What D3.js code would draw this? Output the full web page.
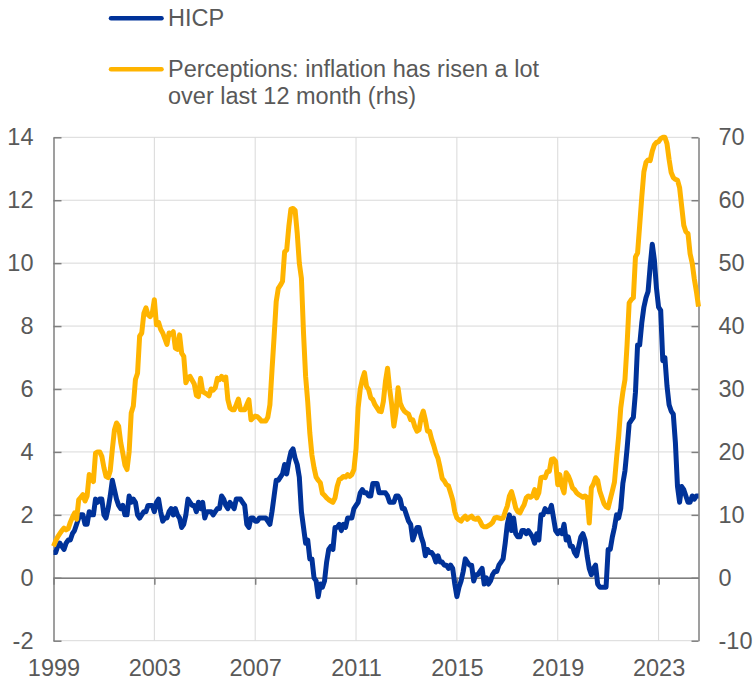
<!DOCTYPE html>
<html>
<head>
<meta charset="utf-8">
<script src="https://cdn.jsdelivr.net/npm/d3@7"></script>
<style>
  body { margin: 0; background: #fff; }
  svg text { font-family: Arial, "Liberation Sans", sans-serif; fill: #595959; }
</style>
</head>
<body>
<svg id="chart" width="755" height="681"></svg>
<script>
// monthly data, Jan 1999 .. Aug 2024
const START_YEAR = 1999;
const yearTicks = [1999, 2003, 2007, 2011, 2015, 2019, 2023];
const leftTicks = [-2, 0, 2, 4, 6, 8, 10, 12, 14];
const rightTicks = [-10, 0, 10, 20, 30, 40, 50, 60, 70];

const seriesNames = ['HICP', 'Perceptions: inflation has risen a lot', 'over last 12 month (rhs)'];

// HICP, annual % change (lhs)
const hicp = [
  0.8, 0.8, 1.0, 1.1, 1.0, 0.9, 1.1, 1.2, 1.2, 1.4, 1.5, 1.7,
  1.9, 2.0, 2.0, 1.7, 1.7, 2.1, 2.0, 2.0, 2.5, 2.4, 2.5, 2.5,
  2.0, 1.9, 2.2, 2.6, 3.1, 2.8, 2.5, 2.3, 2.2, 2.3, 2.0, 2.0,
  2.6, 2.4, 2.5, 2.4, 2.0, 1.9, 2.0, 2.1, 2.1, 2.3, 2.3, 2.3,
  2.1, 2.4, 2.5, 2.1, 1.8, 1.9, 1.9, 2.1, 2.2, 2.0, 2.2, 2.0,
  1.9, 1.6, 1.7, 2.0, 2.5, 2.4, 2.3, 2.3, 2.1, 2.4, 2.2, 2.4,
  1.9, 2.1, 2.1, 2.1, 2.0, 2.1, 2.2, 2.2, 2.6, 2.5, 2.3, 2.2,
  2.4, 2.3, 2.2, 2.5, 2.5, 2.5, 2.4, 2.3, 1.7, 1.6, 1.9, 1.9,
  1.8, 1.8, 1.9, 1.9, 1.9, 1.9, 1.8, 1.7, 2.1, 2.6, 3.1, 3.1,
  3.2, 3.3, 3.6, 3.3, 3.7, 4.0, 4.1, 3.8, 3.6, 3.2, 2.1, 1.6,
  1.1, 1.2, 0.6, 0.6, 0.0, -0.1, -0.6, -0.2, -0.3, -0.1, 0.5, 0.9,
  1.0, 0.9, 1.6, 1.6, 1.7, 1.5, 1.7, 1.6, 1.9, 1.9, 1.9, 2.2,
  2.3, 2.4, 2.7, 2.8, 2.7, 2.7, 2.6, 2.6, 3.0, 3.0, 3.0, 2.7,
  2.7, 2.7, 2.7, 2.6, 2.4, 2.4, 2.4, 2.6, 2.6, 2.5, 2.2, 2.2,
  2.0, 1.8, 1.7, 1.2, 1.4, 1.6, 1.6, 1.3, 1.1, 0.7, 0.9, 0.8,
  0.8, 0.7, 0.5, 0.7, 0.5, 0.5, 0.4, 0.4, 0.3, 0.4, 0.3, -0.2,
  -0.6, -0.3, -0.1, 0.2, 0.6, 0.5, 0.4, 0.4, -0.1, 0.1, 0.1, 0.2,
  0.3, -0.2, 0.0, -0.2, -0.1, 0.1, 0.2, 0.2, 0.4, 0.5, 0.6, 1.1,
  1.7, 2.0, 1.5, 1.9, 1.4, 1.3, 1.3, 1.5, 1.5, 1.4, 1.5, 1.4,
  1.3, 1.1, 1.4, 1.2, 2.0, 2.0, 2.2, 2.1, 2.1, 2.3, 1.9, 1.5,
  1.4, 1.5, 1.4, 1.7, 1.2, 1.3, 1.0, 1.0, 0.8, 0.7, 1.0, 1.3,
  1.4, 1.2, 0.7, 0.3, 0.1, 0.3, 0.4, -0.2, -0.3, -0.3, -0.3, -0.3,
  0.9, 0.9, 1.3, 1.6, 2.0, 1.9, 2.2, 3.0, 3.4, 4.1, 4.9, 5.0,
  5.1, 5.9, 7.4, 7.4, 8.1, 8.6, 8.9, 9.1, 9.9, 10.6, 10.1, 9.2,
  8.6, 8.5, 6.9, 7.0, 6.1, 5.5, 5.3, 5.2, 4.3, 2.9, 2.4, 2.9,
  2.8, 2.6, 2.4, 2.4, 2.6, 2.5, 2.6, 2.6
];

// Consumer perceptions, % saying inflation has risen a lot (rhs)
const perceptions = [
  5.0, 5.8, 6.5, 7.0, 7.5, 7.9, 7.6, 7.8, 8.8, 9.6, 10.3, 9.3,
  12.4, 12.8, 13.2, 12.2, 13.0, 16.4, 15.8, 15.3, 19.8, 20.0, 20.0, 19.3,
  17.5, 16.1, 15.9, 17.0, 20.4, 23.5, 24.6, 24.1, 21.5, 19.8, 17.9, 17.2,
  20.0, 26.2, 27.3, 31.5, 32.5, 38.4, 38.9, 42.0, 42.9, 41.8, 41.5, 42.0,
  44.2, 40.2, 40.6, 39.5, 38.9, 38.0, 37.1, 38.9, 38.7, 39.1, 36.5, 36.3,
  38.6, 35.7, 35.2, 31.0, 31.8, 32.0, 31.4, 30.8, 29.0, 28.8, 31.7, 29.6,
  29.4, 29.2, 28.9, 30.0, 29.8, 30.2, 31.7, 31.5, 32.0, 31.5, 31.9, 28.3,
  27.0, 26.7, 26.7, 27.5, 28.4, 26.7, 26.7, 26.7, 27.5, 28.3, 25.1, 25.4,
  25.7, 25.6, 25.3, 24.9, 24.9, 24.9, 25.5, 27.5, 33.0, 38.3, 43.9, 46.0,
  46.5, 47.1, 51.8, 52.1, 55.8, 58.6, 58.7, 58.4, 54.8, 50.0, 47.6, 38.9,
  32.0, 28.0, 23.0, 19.5, 17.5, 16.0, 15.5, 15.1, 13.4, 13.1, 12.7, 12.4,
  12.2, 12.0, 12.7, 14.5, 15.6, 15.8, 16.1, 16.0, 16.4, 16.1, 16.4, 17.2,
  20.5, 27.0, 30.0, 31.5, 32.6, 30.4, 29.9, 28.6, 28.3, 27.5, 27.0, 26.5,
  26.4, 28.0, 31.2, 33.3, 30.0, 27.5, 24.1, 26.2, 30.2, 27.8, 27.0, 26.5,
  26.2, 26.0, 25.1, 25.1, 24.0, 23.3, 23.5, 25.5, 26.5, 25.1, 23.3, 23.3,
  22.0, 21.0, 19.8, 19.0, 17.5, 15.8, 15.4, 14.8, 14.6, 13.5, 12.4, 10.5,
  9.5, 9.2, 9.0, 9.5, 9.8, 9.3, 9.6, 9.8, 9.4, 9.3, 9.5, 9.0,
  8.3, 8.1, 8.1, 8.3, 8.5, 8.8, 9.5, 9.6, 9.5, 9.4, 9.5, 10.5,
  11.4, 13.0, 13.7, 12.5, 11.1, 10.5, 10.3, 11.0, 11.6, 12.7, 13.0, 12.8,
  13.0, 14.0, 12.7, 13.5, 15.9, 16.0, 15.9, 16.9, 16.9, 18.8, 18.9, 18.5,
  14.8, 16.4, 14.5, 13.5, 16.7, 16.2, 15.4, 14.3, 14.0, 13.5, 13.2, 13.0,
  12.8, 13.0, 12.7, 8.7, 14.3, 14.9, 15.9, 15.5, 13.8, 12.8, 11.8, 11.3,
  11.1, 12.5, 13.8, 15.2, 19.0, 22.5, 27.0, 29.5, 31.5, 37.0, 43.7, 44.2,
  44.5, 51.0, 51.6, 56.0, 60.5, 64.5, 66.0, 66.4, 66.3, 67.8, 68.8, 69.2,
  69.3, 69.8, 70.0, 70.0, 69.0, 66.5, 64.4, 63.6, 63.3, 63.2, 62.0, 59.0,
  56.0, 55.0, 54.7, 51.5, 50.0, 47.5, 45.5, 43.1
];

const COLORS = { hicp: '#003299', perceptions: '#ffb400', grid: '#d9d9d9', axis: '#7f7f7f' };
const FONT_SIZE = 23.5;
const plot = { left: 53.5, right: 698.5, top: 137.3, bottom: 640.7 };

const svg = d3.select('#chart');

const x = d3.scaleLinear()
  .domain([0, hicp.length - 1])
  .range([plot.left, plot.right]);
const yLeft = d3.scaleLinear().domain([-2, 14]).range([plot.bottom, plot.top]);
const yRight = d3.scaleLinear().domain([-10, 70]).range([plot.bottom, plot.top]);

const monthOf = (year) => (year - START_YEAR) * 12;
// plain hyphen for negatives, like the source chart
const plainNumber = (d) => String(d);

// gridlines
const grid = svg.append('g').attr('class', 'grid');
grid.selectAll('line.h')
  .data(leftTicks)
  .join('line')
  .attr('class', 'h')
  .attr('x1', plot.left).attr('x2', plot.right)
  .attr('y1', (d) => yLeft(d)).attr('y2', (d) => yLeft(d))
  .attr('stroke', COLORS.grid).attr('stroke-width', 1);
grid.selectAll('line.v')
  .data(yearTicks.slice(1))
  .join('line')
  .attr('class', 'v')
  .attr('x1', (d) => x(monthOf(d))).attr('x2', (d) => x(monthOf(d)))
  .attr('y1', plot.top).attr('y2', plot.bottom)
  .attr('stroke', COLORS.grid).attr('stroke-width', 1);

function styleAxis(g) {
  g.selectAll('path, line').attr('stroke', COLORS.axis).attr('stroke-width', 1.5);
  g.selectAll('text').attr('font-size', FONT_SIZE).attr('fill', '#595959');
}

// left axis, ticks pointing into the plot
svg.append('g')
  .attr('transform', `translate(${plot.left},0)`)
  .call(d3.axisLeft(yLeft).tickValues(leftTicks).tickFormat(plainNumber)
    .tickSize(-8).tickSizeOuter(0).tickPadding(20))
  .call(styleAxis);

// right axis
svg.append('g')
  .attr('transform', `translate(${plot.right},0)`)
  .call(d3.axisRight(yRight).tickValues(rightTicks).tickFormat(plainNumber)
    .tickSize(-7).tickSizeOuter(0).tickPadding(20))
  .call(styleAxis);

// zero line with small ticks below
svg.append('g')
  .attr('transform', `translate(0,${yLeft(0)})`)
  .call(d3.axisBottom(x).tickValues(yearTicks.map(monthOf)).tickSize(7).tickSizeOuter(0).tickFormat(''))
  .call(styleAxis);

// year labels below the plot
const xLabels = svg.append('g')
  .attr('transform', `translate(0,${plot.bottom})`)
  .call(d3.axisBottom(x).tickValues(yearTicks.map(monthOf)).tickSize(0).tickPadding(18.5)
    .tickFormat((m) => String(START_YEAR + m / 12)))
  .call(styleAxis);
xLabels.select('.domain').remove();

// series
const lineLeft = d3.line().x((d, i) => x(i)).y((d) => yLeft(d));
const lineRight = d3.line().x((d, i) => x(i)).y((d) => yRight(d));

svg.append('path')
  .datum(hicp)
  .attr('d', lineLeft)
  .attr('fill', 'none')
  .attr('stroke', COLORS.hicp)
  .attr('stroke-width', 5)
  .attr('stroke-linejoin', 'round');

svg.append('path')
  .datum(perceptions)
  .attr('d', lineRight)
  .attr('fill', 'none')
  .attr('stroke', COLORS.perceptions)
  .attr('stroke-width', 5)
  .attr('stroke-linejoin', 'round');

// legend
const legend = svg.append('g').attr('class', 'legend');
const legendItems = [
  { color: COLORS.hicp, y: 18.3, lines: [seriesNames[0]] },
  { color: COLORS.perceptions, y: 69.3, lines: [seriesNames[1], seriesNames[2]] }
];
const items = legend.selectAll('g')
  .data(legendItems)
  .join('g')
  .attr('transform', (d) => `translate(0,${d.y})`);
items.append('line')
  .attr('x1', 111).attr('x2', 161.5)
  .attr('y1', 0).attr('y2', 0)
  .attr('stroke', (d) => d.color)
  .attr('stroke-width', 4.5)
  .attr('stroke-linecap', 'round');
items.append('text')
  .attr('x', 168)
  .attr('y', 8)
  .attr('font-size', FONT_SIZE)
  .selectAll('tspan')
  .data((d) => d.lines)
  .join('tspan')
  .attr('x', 168)
  .attr('dy', (d, i) => (i === 0 ? 0 : 26.5))
  .text((d) => d);
</script>
</body>
</html>
